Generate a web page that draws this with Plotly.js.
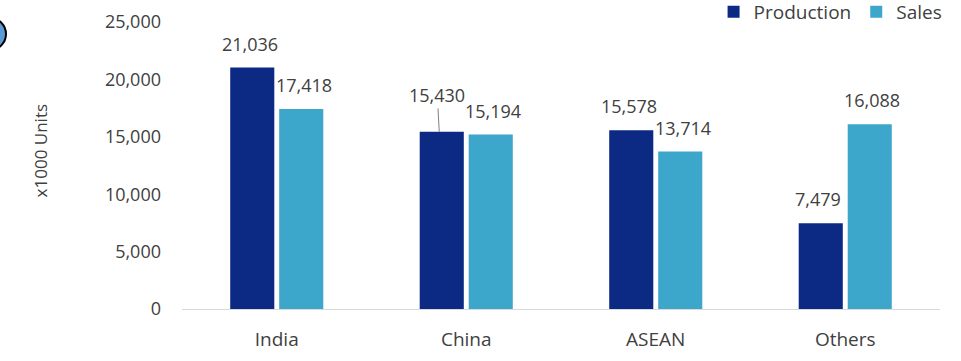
<!DOCTYPE html>
<html>
<head>
<meta charset="utf-8">
<script src="https://cdn.plot.ly/plotly-3.0.1.min.js"></script>
<style>html,body{margin:0;padding:0;background:#fff;}#chart{width:961px;height:361px;}</style>
</head>
<body>
<div id="chart"></div>
<script>
var categories = ["India", "China", "ASEAN", "Others"];
var production = [21036, 15430, 15578, 7479];
var sales = [17418, 15194, 13714, 16088];
var seriesNames = ["Production", "Sales"];
var yTickVals = [0, 5000, 10000, 15000, 20000, 25000];
var yTickText = ["0", "5,000", "10,000", "15,000", "20,000", "25,000"];
var yTitle = "x1000 Units";

var colProd = "#0c2a84";
var colSales = "#3da6cb";
var textCol = "#404040";
var FONT = "Open Sans, Noto Sans, sans-serif";
var LBL = 18;

function fmt(v){ return v.toLocaleString("en-US"); }

var traces = [
  {type:"bar", name:seriesNames[0], x:categories, y:production, marker:{color:colProd}, hoverinfo:"none"},
  {type:"bar", name:seriesNames[1], x:categories, y:sales, marker:{color:colSales}, hoverinfo:"none"}
];

var annotations = [];
var shift = 27;
categories.forEach(function(c, i){
  if (c === "China") {
    annotations.push({x:c, y:production[i], xref:"x", yref:"y", text:fmt(production[i]),
      showarrow:true, arrowhead:0, arrowwidth:1, arrowcolor:"#808080", ax:-2, ay:-37,
      xshift:-shift, font:{family:FONT, size:LBL, color:textCol}, standoff:0, yanchor:"middle"});
  } else {
    annotations.push({x:c, y:production[i], xref:"x", yref:"y", text:fmt(production[i]),
      showarrow:false, xshift:-shift, yshift:10, yanchor:"bottom", font:{family:FONT, size:LBL, color:textCol}});
  }
  annotations.push({x:c, y:sales[i], xref:"x", yref:"y", text:fmt(sales[i]),
    showarrow:false, xshift:shift, yshift:10, yanchor:"bottom", font:{family:FONT, size:LBL, color:textCol}});
});
annotations.push({xref:"paper", yref:"paper", x:-0.187, y:0.55, xanchor:"center", yanchor:"middle",
  text:yTitle, textangle:-90, showarrow:false, font:{family:FONT, size:17, color:textCol}});

var layout = {
  width:961, height:361,
  margin:{l:182, r:21, t:22, b:52, autoexpand:false},
  paper_bgcolor:"#fff", plot_bgcolor:"#fff",
  barmode:"group", bargap:0.483, bargroupgap:0.1,
  font:{family:FONT, color:textCol, size:18},
  showlegend:true,
  legend:{orientation:"h", x:1.01, xanchor:"right", y:1.035, yanchor:"middle",
    font:{family:FONT, size:19, color:textCol}, itemwidth:30, traceorder:"normal", bgcolor:"rgba(0,0,0,0)"},
  xaxis:{type:"category", showgrid:false, showline:true, linecolor:"#d9d9d9", linewidth:1,
    ticks:"", ticklabelstandoff:13, tickfont:{family:FONT, size:19, color:textCol}},
  yaxis:{range:[0,25000], tickvals:yTickVals, ticktext:yTickText, showgrid:false, zeroline:false,
    showline:false, ticks:"", ticklabelstandoff:20, tickfont:{family:FONT, size:18, color:textCol}},
  annotations:annotations,
  shapes:[{type:"circle", xref:"paper", yref:"paper", xsizemode:"pixel", ysizemode:"pixel",
    xanchor:-0.2533, yanchor:0.958, x0:-16, x1:16, y0:-16, y1:16,
    fillcolor:"#5b9bd5", line:{color:"#000", width:2}}]
};

Plotly.newPlot("chart", traces, layout, {staticPlot:true, displayModeBar:false});
</script>
</body>
</html>
